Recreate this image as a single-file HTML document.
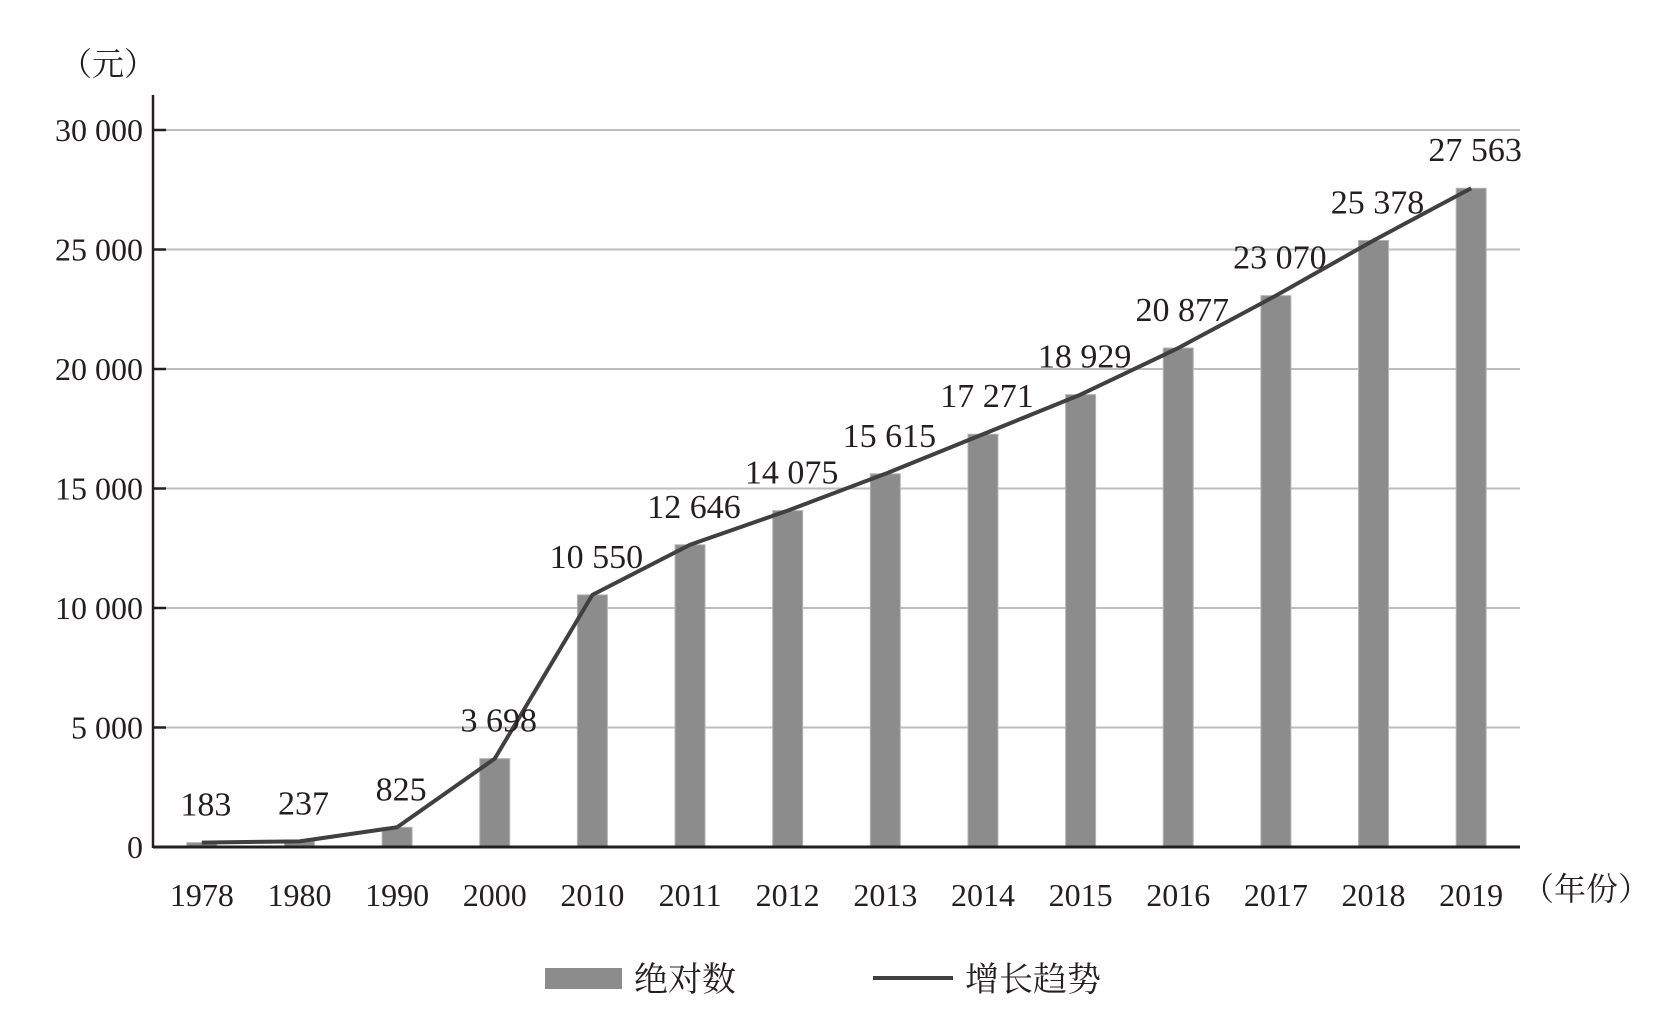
<!DOCTYPE html>
<html><head><meta charset="utf-8"><style>
body{margin:0;background:#fff;}
svg text{font-family:"Liberation Serif","Noto Serif CJK SC",serif;fill:#231f20;}
</style></head><body>
<svg id="chart" width="1678" height="1024" viewBox="0 0 1678 1024" xmlns="http://www.w3.org/2000/svg">
<text x="60" y="75" font-size="32">（元）</text>
<g id="grid"></g><g id="bars"></g><g id="line"></g><g id="labels"></g><g id="axes"></g>
<text x="1522" y="900" font-size="32">（年份）</text>
<g>
<rect x="545" y="968" width="77" height="21" fill="#8c8c8c"/>
<text x="634" y="991" font-size="34">绝对数</text>
<line x1="873" y1="978" x2="953" y2="978" stroke="#404040" stroke-width="4"/>
<text x="965" y="991" font-size="34">增长趋势</text>
</g>
</svg>
<script>
const categories=["1978","1980","1990","2000","2010","2011","2012","2013","2014","2015","2016","2017","2018","2019"];
const values=[183,237,825,3698,10550,12646,14075,15615,17271,18929,20877,23070,25378,27563];
const valueLabels=["183","237","825","3 698","10 550","12 646","14 075","15 615","17 271","18 929","20 877","23 070","25 378","27 563"];
const yTicks=[0,5000,10000,15000,20000,25000,30000];
const yTickLabels=["0","5 000","10 000","15 000","20 000","25 000","30 000"];
const NS="http://www.w3.org/2000/svg";
const L=153,R=1520,B=847,T=130,yMax=30000;
const band=(R-L)/categories.length;
const x=i=>L+band*(i+0.5);
const y=v=>B-(B-T)*v/yMax;
function mk(tag,attrs,parent){const e=document.createElementNS(NS,tag);for(const k in attrs)e.setAttribute(k,attrs[k]);document.getElementById(parent).appendChild(e);return e;}
yTicks.forEach((t,i)=>{
  if(t>0){const g=mk('line',{x1:L,x2:R,y1:y(t),y2:y(t),stroke:'#bdbdbd','stroke-width':2},'grid');
  
  }
  const tk=mk('line',{x1:L,x2:L+13,y1:y(t),y2:y(t),stroke:'#231f20','stroke-width':2.5},'axes');
  
  
  const tl=mk('text',{x:L-10,y:y(t)+11,'text-anchor':'end','font-size':32},'axes');
  tl.textContent=yTickLabels[i];
  
  
});
const ya=mk('line',{x1:L,x2:L,y1:95,y2:B+1,stroke:'#231f20','stroke-width':2.5},'axes');


const xa=mk('line',{x1:L,x2:R,y1:B,y2:B,stroke:'#231f20','stroke-width':3},'axes');


let pts=[];
categories.forEach((c,i)=>{
  const bw=30;
  const b=mk('rect',{x:x(i)-bw/2,y:y(values[i]),width:bw,height:B-y(values[i]),fill:'#8c8c8c',stroke:'#b5b5b5','stroke-width':1},'bars');
  
  
  pts.push(x(i)+','+y(values[i]));
  const xl=mk('text',{x:x(i),y:906,'text-anchor':'middle','font-size':32},'axes');
  xl.textContent=c;
  
  
  const vl=mk('text',{x:x(i)+4,y:y(values[i])-27,'text-anchor':'middle','font-size':34},'labels');
  vl.textContent=valueLabels[i];
  
  
});
const pl=mk('polyline',{points:pts.join(' '),fill:'none',stroke:'#404040','stroke-width':4,'stroke-linejoin':'round'},'line');


</script>
</body></html>
